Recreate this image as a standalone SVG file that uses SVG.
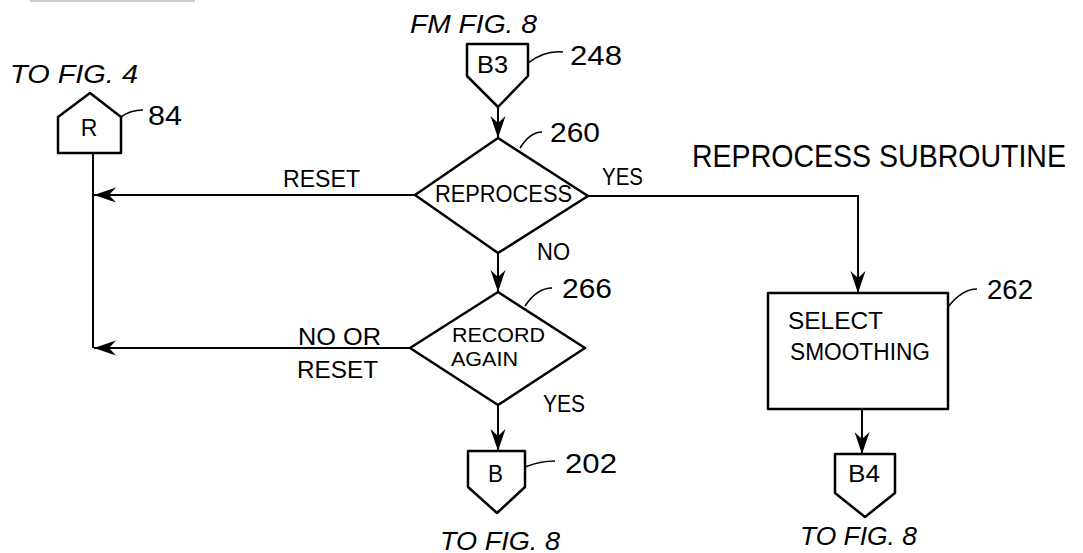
<svg xmlns="http://www.w3.org/2000/svg" width="1083" height="553" viewBox="0 0 1083 553">
<style>
.s{fill:#fff;stroke:#000;stroke-width:2.5;stroke-linejoin:round}
.c{fill:none;stroke:#000;stroke-width:2}
.l{fill:none;stroke:#000;stroke-width:1.6}
text{font-family:"Liberation Sans",Arial,sans-serif;fill:#000}
.t{font-size:23px}
.r{font-size:21px}
.n{font-size:27px}
.i{font-size:25px;font-style:italic}
</style>
<defs>
<marker id="ah" viewBox="0 0 24 16" refX="23" refY="8" markerWidth="24" markerHeight="16" markerUnits="userSpaceOnUse" orient="auto">
<path d="M23,8 L1,0.5 L8,8 L1,15.5 Z" fill="#000"/>
</marker>
</defs>
<line x1="30" y1="1" x2="195" y2="1" stroke="#bbb" stroke-width="1.5"/>
<text transform="translate(692,167) scale(1,1.12)" x="0" y="0" font-size="28" textLength="374" lengthAdjust="spacingAndGlyphs">REPROCESS SUBROUTINE</text>
<g id="connectors">
<line class="c" x1="93" y1="153" x2="93" y2="348"/>
<line class="c" x1="498" y1="107" x2="498" y2="138" marker-end="url(#ah)"/>
<line class="c" x1="415" y1="195" x2="94" y2="195" marker-end="url(#ah)"/>
<polyline class="c" points="588,196 858,196 858,293" marker-end="url(#ah)"/>
<line class="c" x1="498" y1="253" x2="498" y2="292" marker-end="url(#ah)"/>
<line class="c" x1="410" y1="348" x2="94" y2="348" marker-end="url(#ah)"/>
<line class="c" x1="498" y1="405" x2="498" y2="451" marker-end="url(#ah)"/>
<line class="c" x1="862" y1="409" x2="862" y2="454" marker-end="url(#ah)"/>
<text class="t" x="283" y="187" textLength="77" lengthAdjust="spacingAndGlyphs">RESET</text>
<text class="t" x="602" y="185" textLength="41" lengthAdjust="spacingAndGlyphs">YES</text>
<text class="t" x="537" y="260" textLength="33" lengthAdjust="spacingAndGlyphs">NO</text>
<text class="t" x="298" y="345" textLength="83" lengthAdjust="spacingAndGlyphs">NO OR</text>
<text class="t" x="297" y="378" textLength="81" lengthAdjust="spacingAndGlyphs">RESET</text>
<text class="t" x="543" y="412" textLength="42" lengthAdjust="spacingAndGlyphs">YES</text>
</g>
<g id="node-r">
<path class="s" d="M90,93 L121,117 L121,153 L58,153 L58,117 Z"/>
<text class="t" x="89" y="136" text-anchor="middle">R</text>
<text class="i" x="10" y="83" textLength="128" lengthAdjust="spacingAndGlyphs">TO FIG. 4</text>
<path class="l" d="M121,117 Q130,110 143,110"/>
<text class="n" x="148" y="125" textLength="34" lengthAdjust="spacingAndGlyphs">84</text>
</g>
<g id="node-b3">
<path class="s" d="M467,44 L528,44 L528,76 L498,107 L467,76 Z"/>
<text class="t" x="477" y="73" textLength="31" lengthAdjust="spacingAndGlyphs">B3</text>
<text class="i" x="410" y="33" textLength="127" lengthAdjust="spacingAndGlyphs">FM FIG. 8</text>
<path class="l" d="M528,63 Q545,50 563,52"/>
<text class="n" x="570" y="65" textLength="52" lengthAdjust="spacingAndGlyphs">248</text>
</g>
<g id="node-260">
<path class="s" d="M498,138 L588,196 L498,253 L415,195 Z"/>
<text class="t" x="435" y="202" textLength="137" lengthAdjust="spacingAndGlyphs">REPROCESS</text>
<path class="l" d="M520,148 Q530,132 542,132"/>
<text class="n" x="550" y="142" textLength="50" lengthAdjust="spacingAndGlyphs">260</text>
</g>
<g id="node-266">
<path class="s" d="M498,292 L585,348 L498,405 L410,348 Z"/>
<text class="r" x="452" y="342" textLength="93" lengthAdjust="spacingAndGlyphs">RECORD</text>
<text class="r" x="451" y="366" textLength="67" lengthAdjust="spacingAndGlyphs">AGAIN</text>
<path class="l" d="M525,306 Q537,288 552,288"/>
<text class="n" x="562" y="298" textLength="50" lengthAdjust="spacingAndGlyphs">266</text>
</g>
<g id="node-b">
<path class="s" d="M468,451 L525,451 L525,487 L497,513 L468,487 Z"/>
<text class="t" x="488" y="482" textLength="15" lengthAdjust="spacingAndGlyphs">B</text>
<path class="l" d="M525,467 Q540,461 555,461"/>
<text class="n" x="565" y="473" textLength="52" lengthAdjust="spacingAndGlyphs">202</text>
<text class="i" x="440" y="550" textLength="120" lengthAdjust="spacingAndGlyphs">TO FIG. 8</text>
</g>
<g id="node-262">
<rect class="s" x="768" y="293" width="180" height="116"/>
<text class="t" x="788" y="329" textLength="95" lengthAdjust="spacingAndGlyphs">SELECT</text>
<text class="t" x="790" y="360" textLength="140" lengthAdjust="spacingAndGlyphs">SMOOTHING</text>
<path class="l" d="M948,307 Q962,289 977,289"/>
<text class="n" x="987" y="299" textLength="46" lengthAdjust="spacingAndGlyphs">262</text>
</g>
<g id="node-b4">
<path class="s" d="M835,454 L895,454 L895,493 L865,517 L835,493 Z"/>
<text class="t" x="848" y="482" textLength="32" lengthAdjust="spacingAndGlyphs">B4</text>
<text class="i" x="800" y="545" textLength="117" lengthAdjust="spacingAndGlyphs">TO FIG. 8</text>
</g>
</svg>
